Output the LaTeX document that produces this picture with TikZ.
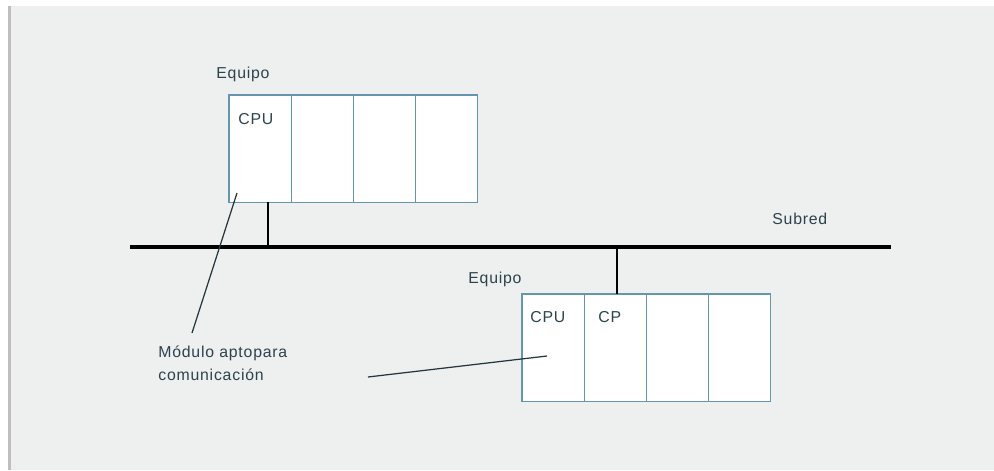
\documentclass[tikz,border=0pt]{standalone}
\usepackage{fontspec}
\setmainfont[LetterSpace=5]{Liberation Sans}
\usetikzlibrary{positioning}

\definecolor{fondo}{HTML}{EEEFEF}
\definecolor{borde}{HTML}{6496AE}
\definecolor{texto}{HTML}{2C434C}

\begin{document}
\begin{tikzpicture}[x=0.02cm,y=-0.02cm,
    modulo/.style={draw=borde,fill=white,line width=0.6pt,minimum width=1.245cm,
      minimum height=2.15cm,inner sep=0pt,outer sep=0pt,anchor=north west},
    rotulo/.style={text=texto,font=\fontsize{9}{13}\selectfont,inner sep=0pt},
    bus/.style={line width=2.8pt,line cap=butt},
    derivacion/.style={line width=1.5pt},
    indicador/.style={line width=0.7pt,draw=texto!80!black}]

  \fill[white] (0,0) rectangle (994,470);
  \fill[fondo] (10,6) rectangle (994,470);
  \fill[black!25] (8,6) rectangle (11,470);

  % equipo superior
  \node[rotulo,anchor=base west] (eqA) at (216,78) {Equipo};
  \node[modulo] (cpuA) at (229,95) {};
  \node[modulo,right=0pt of cpuA] (mA2) {};
  \node[modulo,right=0pt of mA2] (mA3) {};
  \node[modulo,right=0pt of mA3] (mA4) {};
  \node[rotulo,anchor=base west] (tcpuA) at (238,124) {CPU};

  % subred
  \coordinate (busL) at (130,247);
  \coordinate (busR) at (891,247);
  \draw[bus] (busL) -- (busR);
  \node[rotulo,anchor=base west] (subred) at (772,224) {Subred};

  % equipo inferior
  \node[rotulo,anchor=base west] (eqB) at (468,283) {Equipo};
  \node[modulo] (cpuB) at (522,294) {};
  \node[modulo,right=0pt of cpuB] (cpB) {};
  \node[modulo,right=0pt of cpB] (mB3) {};
  \node[modulo,right=0pt of mB3] (mB4) {};
  \node[rotulo,anchor=base west] (tcpuB) at (530,322) {CPU};
  \node[rotulo,anchor=base west] (tcpB) at (598,322) {CP};

  \coordinate (tapA) at (268,247);
  \coordinate (tapB) at (617,247);
  \draw[derivacion] (cpuA.south -| tapA) -- (tapA);
  \draw[derivacion] (tapB) -- (cpB.north -| tapB);

  \node[rotulo,anchor=north west,align=left] (apto) at (158,346)
    {Módulo aptopara\\comunicación};
  \coordinate (pA) at (237,193);
  \coordinate (qA) at (192,333);
  \coordinate (pB) at (547,356);
  \coordinate (qB) at (368,377);
  \draw[indicador] (pA) -- (qA);
  \draw[indicador] (pB) -- (qB);
\end{tikzpicture}
\end{document}
